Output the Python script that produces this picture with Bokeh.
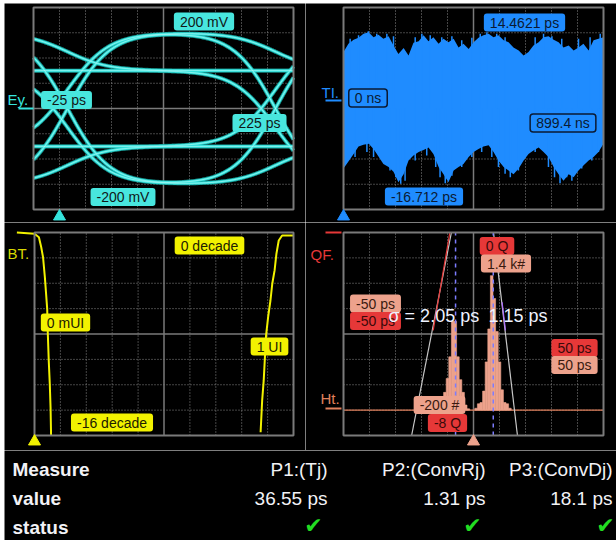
import numpy as np
from bokeh.plotting import figure
from bokeh.models import Range1d, Label, ColumnDataSource, Spacer
from bokeh.layouts import column, row
from bokeh.embed import file_html
from bokeh.resources import INLINE
from bokeh.core.properties import value

# ---------------- data ----------------
# Eye diagram (time in ps, voltage in mV), de-emphasised NRZ: level of bit before, bit, bit after
EYE_T_RANGE = (-25, 225)
EYE_V_RANGE = (-200, 200)
EYE_UI_PS = 200
EYE_EDGE_AT_PS = 7.7
EYE_EDGE_TAU_PS = 40
EYE_LEVELS_MV = [
    [-75, -75, -75], [-75, -75, 150], [-75, 150, -150], [-75, 150, 75],
    [150, -150, -75], [150, -150, 150], [150, 75, -150], [150, 75, 75],
    [75, 75, 75], [75, 75, -150], [75, -150, 150], [75, -150, -75],
    [-150, 150, 75], [-150, 150, -150], [-150, -75, 150], [-150, -75, -75],
]
EYE_TRIGGER_PS = 0

# Time-interval-error track envelope (time in ns, TIE in ps)
TIE_T_RANGE = (0, 899.4)
TIE_V_RANGE = (-20, 20)
TIE_T_NS = [0, 17, 35, 52, 69, 87, 104, 121, 138, 156, 173, 190, 208, 225, 242, 260, 277, 294,
            311, 329, 346, 363, 381, 398, 415, 433, 450, 467, 484, 502, 519, 536, 554, 571, 588,
            606, 623, 640, 657, 675, 692, 709, 727, 744, 761, 779, 796, 813, 830, 848, 865, 882, 899.4]
TIE_HI_PS = [11.2, 12.8, 13.6, 14.0, 14.8, 15.1, 14.1, 14.6, 13.8, 14.3, 12.5, 10.8, 12.0, 10.5,
             13.0, 13.3, 14.5, 13.3, 14.1, 12.8, 13.8, 13.1, 13.8, 12.1, 12.8, 11.8, 13.1, 14.0,
             14.5, 14.8, 14.1, 14.5, 13.5, 13.1, 12.1, 11.5, 10.5, 11.2, 12.5, 13.1, 14.1, 14.3,
             13.6, 13.1, 12.1, 12.5, 11.5, 12.1, 12.8, 11.5, 13.5, 13.8, 14.1]
TIE_LO_PS = [-11.9, -10.5, -9.0, -7.5, -7.2, -7.0, -8.0, -9.5, -11.0, -11.6, -12.5, -14.6, -13.0,
             -10.3, -9.3, -8.6, -8.2, -7.7, -9.0, -11.6, -13.0, -14.6, -12.3, -11.6, -11.0, -9.6,
             -8.6, -8.0, -7.5, -7.3, -8.6, -10.3, -11.6, -12.3, -13.0, -11.9, -10.3, -9.0, -8.3,
             -7.7, -8.6, -9.6, -11.6, -13.0, -14.3, -13.0, -13.6, -12.3, -11.3, -10.3, -9.6, -8.6, -7.0]
# individual excursions (spikes) above / below the envelope
TIE_UP_T_NS = [23, 52, 86, 115, 150, 173, 248, 271, 300, 340, 375, 409, 444, 473, 496, 530, 559,
               663, 692, 721, 755, 813, 853, 888]
TIE_UP_PS = [13.8, 14.5, 15.3, 14.8, 14.8, 14.3, 14.1, 14.8, 14.5, 14.1, 14.3, 13.5, 14.0, 14.8,
             15.1, 14.8, 14.1, 14.1, 14.8, 14.3, 13.8, 13.8, 14.1, 14.8]
TIE_DN_T_NS = [40, 81, 104, 161, 181, 198, 213, 248, 288, 319, 334, 352, 375, 409, 444, 478, 513,
               536, 559, 577, 605, 663, 709, 730, 749, 772, 790, 824, 859, 882]
TIE_DN_PS = [-9.6, -8.6, -9.6, -12.3, -13.6, -14.9, -14.3, -10.3, -9.3, -11.6, -13.6, -14.8, -13.3,
             -11.6, -9.6, -8.6, -9.6, -11.6, -12.9, -13.6, -12.3, -8.6, -11.6, -13.6, -14.8, -13.6,
             -14.3, -11.9, -10.3, -8.6]
TIE_TRIGGER_NS = 0

# Bathtub (UI, log10 BER)
BT_X_RANGE = (0, 1)
BT_Y_RANGE = (-16, 0)
BT_LEFT_UI = [-0.068, 0.0, 0.017, 0.026, 0.033, 0.040, 0.049, 0.051, 0.055, 0.059, 0.062, 0.064]
BT_LEFT_DEC = [0.0, -0.1, -0.37, -1.16, -1.95, -3.52, -6.02, -7.72, -10.09, -11.93, -13.77, -16.0]
BT_RIGHT_UI = [1.0, 0.956, 0.943, 0.934, 0.927, 0.918, 0.911, 0.902, 0.894, 0.889, 0.885, 0.879, 0.873]
BT_RIGHT_DEC = [-0.24, -0.24, -0.63, -1.68, -2.99, -4.04, -5.36, -6.67, -8.12, -10.09, -11.66, -13.24, -15.74]
BT_TRIGGER_UI = 0

# TIE histogram (ps, counts) and Q-fit lines (ps, Q)
H_X_RANGE = (-50, 50)
H_Y_RANGE = (-200, 1400)
Q_RANGE = (-8, 0)
HIST_PS = [-13, -12, -11, -10, -9, -8, -7, -6, -5, -4, -3, -2,
           1, 2, 3, 4, 5, 6, 7, 8, 9, 10, 11, 12, 13, 14]
HIST_COUNT = [10, 40, 140, 250, 420, 700, 700, 420, 240, 140, 40, 10,
              15, 50, 60, 150, 380, 640, 1060, 880, 620, 380, 160, 60, 50, 15]
QF_LEFT_PS, QF_LEFT_Q = [-8.5, -23.8], [0, -8]
QF_RIGHT_PS, QF_RIGHT_Q = [7.7, 16.9], [0, -8]
QF_FIT_LEFT_PS, QF_FIT_LEFT_Q = [-9.1, -15.5], [0, -3.86]
QF_FIT_RIGHT_PS, QF_FIT_RIGHT_Q = [11.0, 12.3], [-2.75, -3.86]
DIRAC_MEANS_PS = [-6.9, 7.6]
SIGMA_TEXTS = ["σ = 2.05 ps", "1.15 ps"]
H_TRIGGER_PS = 0

# Measurement table
TABLE_ROWS = ["Measure", "value", "status"]
TABLE_PARAMS = ["P1:(Tj)", "P2:(ConvRj)", "P3:(ConvDj)"]
TABLE_VALUES = ["36.55 ps", "1.31 ps", "18.1 ps"]
TABLE_STATUS = ["\u2714", "\u2714", "\u2714"]

# ---------------- style ----------------
GRID_C = "#8a8a8a"
FRAME_C = "#7a7a7a"
CYAN = "#36e4de"
CYAN_BOX = "#48e6de"
BLUE = "#1f8cff"
YELLOW = "#f2f200"
SALMON = "#eda28c"
ORANGE = "#e0805c"
RED = "#e63838"
PURPLE = "#7c7cff"
FONT = "Liberation Sans"


class Panel:
    """A scope graticule: fig/box are (left, top, width, height) in page pixels."""

    def __init__(self, fig, box, xr, yr, xdiv=10, ydiv=8):
        fx, fy, fw, fh = fig
        rx, ry, rw, rh = box
        self.box_px, self.xr, self.yr = box, xr, yr
        kx = (xr[1] - xr[0]) / rw
        ky = (yr[1] - yr[0]) / rh
        X = (xr[0] - (rx - fx) * kx, xr[1] + (fx + fw - rx - rw) * kx)
        Y = (yr[0] - (fy + fh - ry - rh) * ky, yr[1] + (ry - fy) * ky)
        p = figure(width=fw, height=fh, x_range=Range1d(*X), y_range=Range1d(*Y),
                   x_axis_location=None, y_axis_location=None, toolbar_location=None,
                   title=None, output_backend="svg", min_border=0,
                   background_fill_color="black", border_fill_color="black",
                   outline_line_color=None)
        p.xgrid.visible = False
        p.ygrid.visible = False
        xt = [xr[0] + (xr[1] - xr[0]) * i / xdiv for i in range(1, xdiv) if i != xdiv // 2]
        yt = [yr[0] + (yr[1] - yr[0]) * i / ydiv for i in range(1, ydiv) if i != ydiv // 2]
        p.segment(x0=xt, y0=[yr[0]] * len(xt), x1=xt, y1=[yr[1]] * len(xt),
                  line_color=GRID_C, line_width=1, line_dash="1 2")
        p.segment(x0=[xr[0]] * len(yt), y0=yt, x1=[xr[1]] * len(yt), y1=yt,
                  line_color=GRID_C, line_width=1, line_dash="1 2")
        cx, cy = (xr[0] + xr[1]) / 2, (yr[0] + yr[1]) / 2
        p.segment(x0=[cx, xr[0]], y0=[yr[0], cy], x1=[cx, xr[1]], y1=[yr[1], cy],
                  line_color=FRAME_C, line_width=1.5)
        self.p = p

    def finish(self):
        xr, yr = self.xr, self.yr
        self.p.quad(left=[xr[0]], right=[xr[1]], bottom=[yr[0]], top=[yr[1]],
                    fill_color=None, line_color=FRAME_C, line_width=2)

    def dx(self, ax):
        rx, ry, rw, rh = self.box_px
        return self.xr[0] + (ax - rx) / rw * (self.xr[1] - self.xr[0])

    def dy(self, ay):
        rx, ry, rw, rh = self.box_px
        return self.yr[1] - (ay - ry) / rh * (self.yr[1] - self.yr[0])

    def box(self, text, cx, cy, fill, tcolor="#101818", border=None, size="14px", pad=(6, 1)):
        self.p.add_layout(Label(x=self.dx(cx), y=self.dy(cy), text=text,
                                text_align="center", text_baseline="middle",
                                text_font=FONT, text_font_size=size, text_color=tcolor,
                                background_fill_color=fill, background_fill_alpha=1.0,
                                border_line_color=border, border_line_width=1.5,
                                padding=pad, border_radius=3))

    def text(self, text, x, cy, color, size="15px", align="left"):
        self.p.add_layout(Label(x=self.dx(x), y=self.dy(cy), text=text,
                                text_align=align, text_baseline="middle",
                                text_font=FONT, text_font_size=size, text_color=color))

    def bar(self, x0, x1, ay, color):
        self.p.segment(x0=[self.dx(x0)], y0=[self.dy(ay)], x1=[self.dx(x1)], y1=[self.dy(ay)],
                       line_color=color, line_width=2)

    def trigger(self, xval, ay, color):
        self.p.scatter(x=[xval], y=[self.dy(ay)], marker="triangle", size=12,
                       fill_color=color, line_color=color)


# ---------------- top-left: eye ----------------
tl = Panel((4, 3, 301, 219), (33, 7, 260, 202), EYE_T_RANGE, EYE_V_RANGE)


def edge(u):
    return 0.5 * (1.0 + np.tanh(u))


t = np.linspace(EYE_T_RANGE[0], EYE_T_RANGE[1], 300)
exs, eys = [], []
for a, b, c in EYE_LEVELS_MV:
    v = (a + (b - a) * edge((t - EYE_EDGE_AT_PS) / EYE_EDGE_TAU_PS)
         + (c - b) * edge((t - EYE_EDGE_AT_PS - EYE_UI_PS) / EYE_EDGE_TAU_PS))
    exs.append(t.tolist())
    eys.append(v.tolist())
eye_src = ColumnDataSource(dict(xs=exs, ys=eys))
tl.p.multi_line("xs", "ys", source=eye_src, line_color="#1aa8a4", line_width=4, line_alpha=0.6)
tl.p.multi_line("xs", "ys", source=eye_src, line_color=CYAN, line_width=2.2)
tl.p.multi_line("xs", "ys", source=eye_src, line_color="#c8fffb", line_width=0.7, line_alpha=0.5)
tl.finish()
tl.box("200 mV", 203.5, 21, CYAN_BOX)
tl.box("-25 ps", 66, 99.5, CYAN_BOX)
tl.box("225 ps", 259, 122.5, CYAN_BOX)
tl.box("-200 mV", 122.5, 196.5, CYAN_BOX)
tl.text("Ey.", 7, 99, CYAN)
tl.bar(18, 33, 108, CYAN)
tl.trigger(EYE_TRIGGER_PS, 216, CYAN)

# ---------------- top-right: TIE track ----------------
tr = Panel((305, 3, 311, 219), (343, 7, 260, 202), TIE_T_RANGE, TIE_V_RANGE)
tr.p.varea(x=TIE_T_NS, y1=TIE_LO_PS, y2=TIE_HI_PS, fill_color=BLUE, fill_alpha=1.0)
tr.p.segment(x0=TIE_UP_T_NS, y0=[0] * len(TIE_UP_T_NS), x1=TIE_UP_T_NS, y1=TIE_UP_PS,
             line_color=BLUE, line_width=1.5)
tr.p.segment(x0=TIE_DN_T_NS, y0=[0] * len(TIE_DN_T_NS), x1=TIE_DN_T_NS, y1=TIE_DN_PS,
             line_color=BLUE, line_width=1.5)
tr.finish()
tr.box("14.4621 ps", 524, 22, BLUE, tcolor="#0a1a33")
tr.box("0 ns", 367.5, 97.5, BLUE, tcolor="#0a1a33", border="#0b1a33")
tr.box("899.4 ns", 562.5, 122.5, BLUE, tcolor="#0a1a33", border="#0b1a33")
tr.box("-16.712 ps", 423.5, 196, BLUE, tcolor="#0a1a33")
tr.text("TI.", 321, 91.5, BLUE)
tr.bar(325, 341, 100, BLUE)
tr.trigger(TIE_TRIGGER_NS, 216, BLUE)

# ---------------- bottom-left: bathtub ----------------
bl = Panel((4, 222, 301, 228), (34, 232, 259, 203), BT_X_RANGE, BT_Y_RANGE)
bl.p.line(BT_LEFT_UI, BT_LEFT_DEC, line_color=YELLOW, line_width=2)
bl.p.line(BT_RIGHT_UI, BT_RIGHT_DEC, line_color=YELLOW, line_width=2)
bl.finish()
bl.box("0 decade", 209, 245, YELLOW, tcolor="#202000")
bl.box("0 mUI", 65, 322, YELLOW, tcolor="#202000")
bl.box("1 UI", 269, 346, YELLOW, tcolor="#202000")
bl.box("-16 decade", 111.5, 422, YELLOW, tcolor="#202000")
bl.text("BT.", 7, 253, "#d8d800")
bl.trigger(BT_TRIGGER_UI, 441, YELLOW)

# ---------------- bottom-right: histogram + Q-fit ----------------
br = Panel((305, 222, 311, 228), (343, 232, 260, 203), H_X_RANGE, H_Y_RANGE)
qk = (Q_RANGE[1] - Q_RANGE[0]) / 203
br.p.extra_y_ranges = {"q": Range1d(Q_RANGE[0] - (450 - 435) * qk, Q_RANGE[1] + (232 - 222) * qk)}
br.p.segment(x0=[H_X_RANGE[0]], y0=[0], x1=[H_X_RANGE[1]], y1=[0], line_color=ORANGE, line_width=1.2)
br.p.vbar(x=HIST_PS, top=HIST_COUNT, bottom=0, width=1.0, fill_color=SALMON,
          line_color=SALMON, line_width=0.6)
br.p.line(QF_LEFT_PS, QF_LEFT_Q, y_range_name="q", line_color="#c8c8c8", line_width=1.2)
br.p.line(QF_RIGHT_PS, QF_RIGHT_Q, y_range_name="q", line_color="#c8c8c8", line_width=1.2)
br.p.line(QF_FIT_LEFT_PS, QF_FIT_LEFT_Q, y_range_name="q", line_color=RED, line_width=1.2)
br.p.line(QF_FIT_RIGHT_PS, QF_FIT_RIGHT_Q, y_range_name="q", line_color="#b070ff", line_width=1.2)
br.p.segment(x0=DIRAC_MEANS_PS, y0=[H_Y_RANGE[0]] * 2, x1=DIRAC_MEANS_PS, y1=[H_Y_RANGE[1]] * 2,
             line_color=PURPLE, line_width=1.5, line_dash="4 4")
br.finish()
br.box("-50 ps", 375, 303, SALMON, tcolor="#3a1a10")
br.box("-50 ps", 375, 320.5, RED, tcolor="#3a0a0a")
br.box("50 ps", 574, 347.5, RED, tcolor="#3a0a0a")
br.box("50 ps", 574, 364.5, SALMON, tcolor="#3a1a10")
br.box("0 Q", 496.5, 245.5, RED, tcolor="#3a0a0a")
br.box("1.4 k#", 505.5, 263, SALMON, tcolor="#3a1a10")
br.box("-200 #", 439, 404.5, SALMON, tcolor="#3a1a10")
br.box("-8 Q", 447, 422.5, RED, tcolor="#3a0a0a")
br.text(SIGMA_TEXTS[0], 388, 315, "#eef2ff", size="18px")
br.text(SIGMA_TEXTS[1], 488, 315, "#eef2ff", size="18px")
br.text("QF.", 310, 254, RED)
br.bar(325, 341, 232, RED)
br.text("Ht.", 320, 398, ORANGE)
br.bar(325, 341, 408, ORANGE)
br.trigger(H_TRIGGER_PS, 441, SALMON)

# ---------------- table ----------------
tb = figure(width=612, height=90, x_range=Range1d(0, 612), y_range=Range1d(0, 90),
            x_axis_location=None, y_axis_location=None, toolbar_location=None, title=None,
            output_backend="svg", min_border=0, background_fill_color="black",
            border_fill_color="black", outline_line_color=None)
tb.xgrid.visible = False
tb.ygrid.visible = False
row_y = [71, 42, 13]
col_x = [323, 481, 608]
check_x = [309, 468, 601]
tb.text(x=[8, 8, 8], y=row_y, text=TABLE_ROWS, text_align="left", text_baseline="middle",
        text_color="#f2f2f6", text_font=value(FONT), text_font_size=value("19px"),
        text_font_style="bold")
tb.text(x=col_x, y=[row_y[0]] * 3, text=TABLE_PARAMS, text_align="right",
        text_baseline="middle", text_color="#f2f2f6", text_font=value(FONT),
        text_font_size=value("19px"))
tb.text(x=col_x, y=[row_y[1]] * 3, text=TABLE_VALUES, text_align="right",
        text_baseline="middle", text_color="#f2f2f6", text_font=value(FONT),
        text_font_size=value("19px"))
tb.text(x=check_x, y=[15] * 3, text=TABLE_STATUS, text_align="center", text_baseline="middle",
        text_color="#22dd22", text_font=value("DejaVu Sans"), text_font_size=value("22px"))

content = column(row(tl.p, tr.p), row(bl.p, br.p), tb)
layout = column(Spacer(height=3), row(Spacer(width=4), content))
open("out.html", "w").write(file_html(layout, INLINE))
